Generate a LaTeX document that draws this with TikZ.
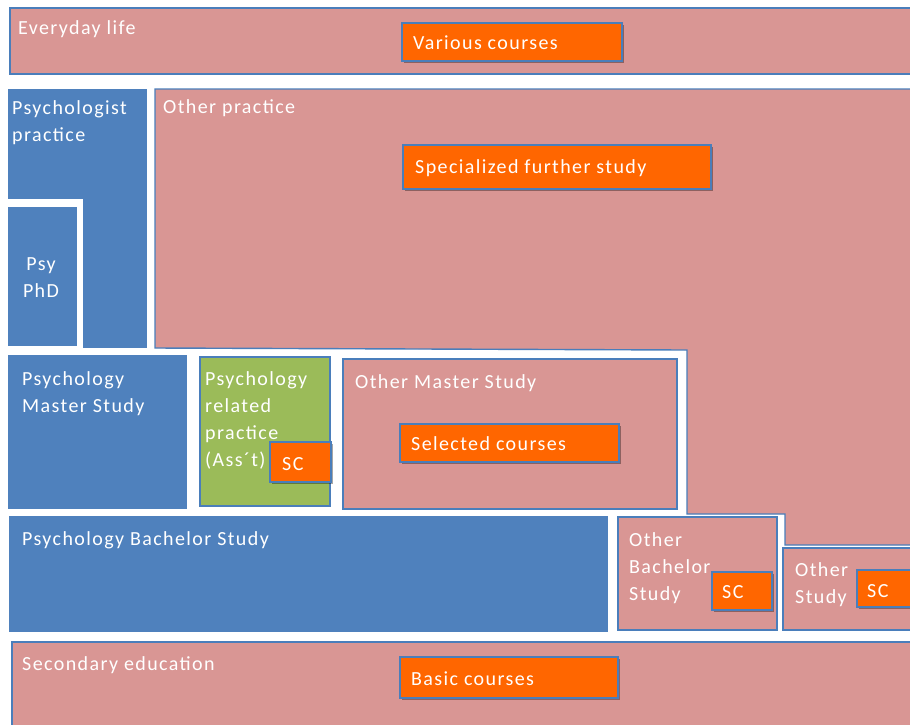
\documentclass[tikz,border=0pt]{standalone}
\usepackage{fontspec}
\setmainfont{Carlito}[LetterSpace=7]
\usetikzlibrary{shadows}
\definecolor{pinkf}{HTML}{D99694}
\definecolor{bluef}{HTML}{4F81BD}
\definecolor{greenf}{HTML}{9BBB59}
\definecolor{orangef}{HTML}{FF6600}
\definecolor{edgec}{HTML}{4A7EBB}
\tikzset{
  region/.style={draw=edgec, line width=1.4pt},
  pinkregion/.style={region, fill=pinkf},
  blueregion/.style={fill=bluef, draw=bluef, line width=1pt},
  greenregion/.style={region, fill=greenf},
  course/.style={draw=edgec, line width=1.4pt, fill=orangef,
    drop shadow={shadow xshift=1.5pt, shadow yshift=-1.5pt, opacity=0.35, fill=black}},
  lbl/.style={text=white, font=\fontsize{20}{27}\selectfont, inner sep=0pt,
    anchor=base west, align=left},
}
\begin{document}
\begin{tikzpicture}[x=1pt, y=-1pt]
\useasboundingbox (0,0) rectangle (910,724);
\fill[white] (0,0) rectangle (910,724);

% Everyday life
\draw[pinkregion] (10,8) rectangle (916,74);
\node[lbl] (everyday) at (18,34) {Everyday life};
\draw[course] (402,23) rectangle (622,61);
\node[lbl] (various) at (413,49) {Various courses};

% Psychologist practice (L shape)
\draw[blueregion] (8,89) -- (146,89) -- (146,347) -- (83,347) -- (83,198) -- (8,198) -- cycle;
\node[lbl] (psypractice) at (12,141) {Psychologist\\practice};

% Psy PhD
\draw[blueregion] (8,207) rectangle (76,345);
\node[lbl, align=center, anchor=base] (psyphd) at (41,297) {Psy\\PhD};

% Other practice
\draw[pinkregion] (155,89) -- (916,89) -- (916,545) -- (785,545) -- (785,514)
  -- (687,514) -- (687,350) -- (155,348) -- cycle;
\node[lbl] (otherpractice) at (163,113) {Other practice};
\draw[course] (403,145) rectangle (711,189);
\node[lbl] (specialized) at (415,173) {Specialized further study};

% Psychology Master Study
\draw[blueregion] (8,355) rectangle (186,508);
\node[lbl] (psymaster) at (22,412) {Psychology\\Master Study};

% Psychology related practice
\draw[greenregion] (200,357) rectangle (330,506);
\node[lbl] (related) at (205,466) {Psychology\\related\\practice\\(Ass´t)};
\draw[course] (270,442) rectangle (331,482);
\node[lbl] (sc1) at (282,470) {SC};

% Other Master Study
\draw[pinkregion] (343,359) rectangle (677,509);
\node[lbl] (othermaster) at (355,388) {Other Master Study};
\draw[course] (400,424) rectangle (619,462);
\node[lbl] (selected) at (411,450) {Selected courses};

% Psychology Bachelor Study
\draw[blueregion] (9,516) rectangle (607,631);
\node[lbl] (psybachelor) at (22,545) {Psychology Bachelor Study};

% Other Bachelor Study
\draw[pinkregion] (618,517) rectangle (777,630);
\node[lbl] (otherbachelor) at (629,600) {Other\\Bachelor\\Study};
\draw[course] (712,572) rectangle (772,610);
\node[lbl] (sc2) at (722,598) {SC};

% Other Study
\draw[pinkregion] (783,548) rectangle (916,630);
\node[lbl] (otherstudy) at (795,603) {Other\\Study};
\draw[course] (857,570) rectangle (916,607);
\node[lbl] (sc3) at (867,597) {SC};

% Secondary education
\draw[pinkregion] (12,642) rectangle (916,730);
\node[lbl] (secondary) at (22,670) {Secondary education};
\draw[course] (400,657) rectangle (618,698);
\node[lbl] (basic) at (411,685) {Basic courses};
\end{tikzpicture}
\end{document}
